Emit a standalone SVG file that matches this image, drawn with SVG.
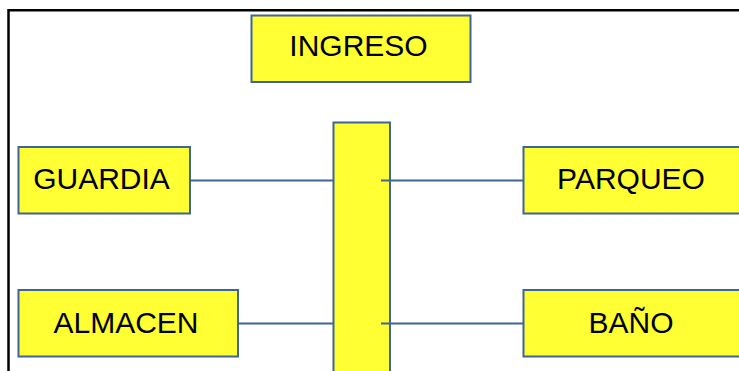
<svg xmlns="http://www.w3.org/2000/svg" width="739" height="371" viewBox="0 0 739 371">
<style>
.box{fill:#FFFF33;stroke:#3E6596;stroke-width:2}
.lbl{font-family:"Liberation Sans",Arial,sans-serif;font-size:30px;fill:#000;text-anchor:middle}
.conn{stroke:#3E6596;stroke-width:2;fill:none}
</style>
<rect width="739" height="371" fill="#fff"/>
<path d="M8.5,371 V10.3 H739" fill="none" stroke="#000" stroke-width="2.5"/>
<g id="ingreso"><rect class="box" x="251.5" y="15.5" width="219" height="66.5"/><text class="lbl" x="358.5" y="56">INGRESO</text></g>
<g id="bar"><rect class="box" x="333.5" y="122.5" width="56.5" height="260"/></g>
<g id="guardia"><rect class="box" x="18.5" y="147" width="171.5" height="66.5"/><text class="lbl" x="101.5" y="188.5">GUARDIA</text></g>
<g id="almacen"><rect class="box" x="18.5" y="290" width="219.5" height="66.5"/><text class="lbl" x="126" y="332.5">ALMACEN</text></g>
<g id="parqueo"><rect class="box" x="523.5" y="147" width="230" height="66.5"/><text class="lbl" x="631" y="188.5">PARQUEO</text></g>
<g id="bano"><rect class="box" x="523.5" y="290" width="230" height="66.5"/><text class="lbl" x="631" y="332.5">BAÑO</text></g>
<g id="connectors">
<line class="conn" x1="190" y1="180.5" x2="333.5" y2="180.5"/>
<line class="conn" x1="381" y1="180.5" x2="523.5" y2="180.5"/>
<line class="conn" x1="238" y1="323.5" x2="333.5" y2="323.5"/>
<line class="conn" x1="381" y1="323.5" x2="523.5" y2="323.5"/>
</g>
</svg>
